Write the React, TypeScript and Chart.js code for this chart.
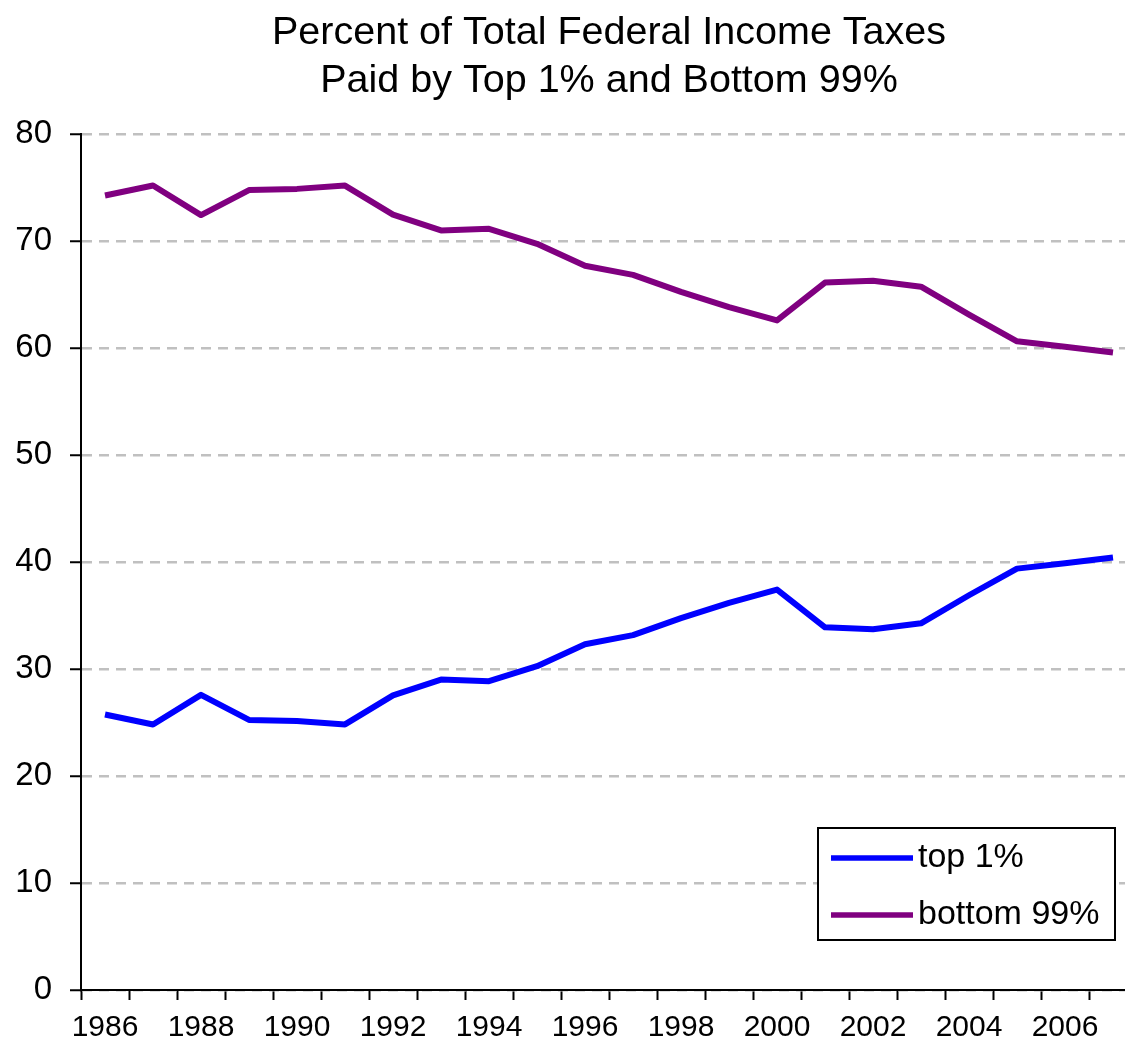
import React, { useEffect, useRef } from "react";
import { Chart, registerables } from "chart.js";

Chart.register(...registerables);

const titleLines = ["Percent of Total Federal Income Taxes", "Paid by Top 1% and Bottom 99%"];
const years = [
  "1986", "1987", "1988", "1989", "1990", "1991", "1992", "1993", "1994", "1995", "1996",
  "1997", "1998", "1999", "2000", "2001", "2002", "2003", "2004", "2005", "2006", "2007",
];
const top1 = [
  25.75, 24.81, 27.58, 25.24, 25.13, 24.82, 27.54, 29.01, 28.86, 30.26, 32.31,
  33.17, 34.75, 36.18, 37.42, 33.89, 33.71, 34.27, 36.89, 39.38, 39.89, 40.42,
];
const bottom99 = [
  74.25, 75.19, 72.42, 74.76, 74.87, 75.18, 72.46, 70.99, 71.14, 69.74, 67.69,
  66.83, 65.25, 63.82, 62.58, 66.11, 66.29, 65.73, 63.11, 60.62, 60.11, 59.58,
];
const seriesLabels = ["top 1%", "bottom 99%"];
const seriesColors = ["#0000ff", "#800080"];
const yMin = 0;
const yMax = 80;
const yStep = 10;

const legendBoxPlugin = {
  id: "legendBox",
  afterDraw(chart: any) {
    const { ctx, chartArea } = chart;
    const w = 297;
    const h = 112;
    const right = chartArea.right - 22;
    const bottom = chartArea.bottom - 50;
    const left = right - w;
    const top = bottom - h;
    ctx.save();
    ctx.fillStyle = "#ffffff";
    ctx.fillRect(left, top, w, h);
    ctx.strokeStyle = "#000000";
    ctx.lineWidth = 2;
    ctx.strokeRect(left, top, w, h);
    ctx.font = "34px 'Liberation Sans', Arial, sans-serif";
    ctx.textBaseline = "middle";
    ctx.textAlign = "left";
    chart.data.datasets.forEach((ds: any, i: number) => {
      const y = top + 30 + i * 57;
      ctx.strokeStyle = ds.borderColor;
      ctx.lineWidth = 5.5;
      ctx.beginPath();
      ctx.moveTo(left + 13, y);
      ctx.lineTo(left + 95, y);
      ctx.stroke();
      ctx.fillStyle = "#000000";
      ctx.fillText(ds.label, left + 100, y);
    });
    ctx.restore();
  },
};

export default function App() {
  const ref = useRef<HTMLCanvasElement | null>(null);
  useEffect(() => {
    if (!ref.current) return;
    const chart = new Chart(ref.current, {
      type: "line",
      data: {
        labels: years,
        datasets: [
          {
            label: seriesLabels[0],
            data: top1,
            borderColor: seriesColors[0],
            backgroundColor: seriesColors[0],
            borderWidth: 6,
            pointRadius: 0,
            tension: 0,
            borderJoinStyle: "round",
          },
          {
            label: seriesLabels[1],
            data: bottom99,
            borderColor: seriesColors[1],
            backgroundColor: seriesColors[1],
            borderWidth: 6,
            pointRadius: 0,
            tension: 0,
            borderJoinStyle: "round",
          },
        ],
      },
      options: {
        responsive: false,
        animation: false,
        layout: { padding: { left: 0, right: 79, top: 0, bottom: 0 } },
        plugins: {
          legend: { display: false },
          tooltip: { enabled: false },
          title: {
            display: true,
            fullSize: false,
            text: titleLines,
            color: "#000000",
            font: { family: "'Liberation Sans', Arial, sans-serif", size: 39.5, weight: "normal", lineHeight: 1.215 },
            padding: { top: 9, bottom: 29 },
          },
        },
        scales: {
          x: {
            type: "category",
            offset: true,
            grid: {
              display: true,
              drawOnChartArea: false,
              drawTicks: true,
              tickLength: 10,
              tickColor: "#000000",
              tickWidth: 2,
              offset: true,
            },
            border: { display: true, color: "#000000", width: 2 },
            ticks: {
              autoSkip: false,
              maxRotation: 0,
              padding: 10,
              color: "#000000",
              font: { family: "'Liberation Sans', Arial, sans-serif", size: 30, lineHeight: 1.2 },
              callback: (_v: any, i: number) => (i % 2 === 0 ? years[i] : ""),
            },
          },
          y: {
            min: yMin,
            max: yMax,
            afterFit: (scale: any) => {
              scale.width = 81;
            },
            grid: {
              color: "#c0c0c0",
              lineWidth: 2.5,
              drawTicks: true,
              tickLength: 11,
              tickColor: "#000000",
              tickWidth: 2,
              tickBorderDash: [],
            },
            border: { display: true, color: "#000000", width: 2, dash: [10, 7] },
            ticks: {
              stepSize: yStep,
              padding: 18,
              color: "#000000",
              font: { family: "'Liberation Sans', Arial, sans-serif", size: 33 },
            },
          },
        },
      },
      plugins: [legendBoxPlugin],
    } as any);
    return () => chart.destroy();
  }, []);

  return (
    <div
      style={{
        position: "fixed",
        left: 0,
        top: 0,
        width: 1125,
        height: 1044,
        overflow: "hidden",
        background: "#ffffff",
      }}
    >
      <canvas ref={ref} width={1216} height={1056} style={{ width: 1216, height: 1056, display: "block" }} />
    </div>
  );
}
